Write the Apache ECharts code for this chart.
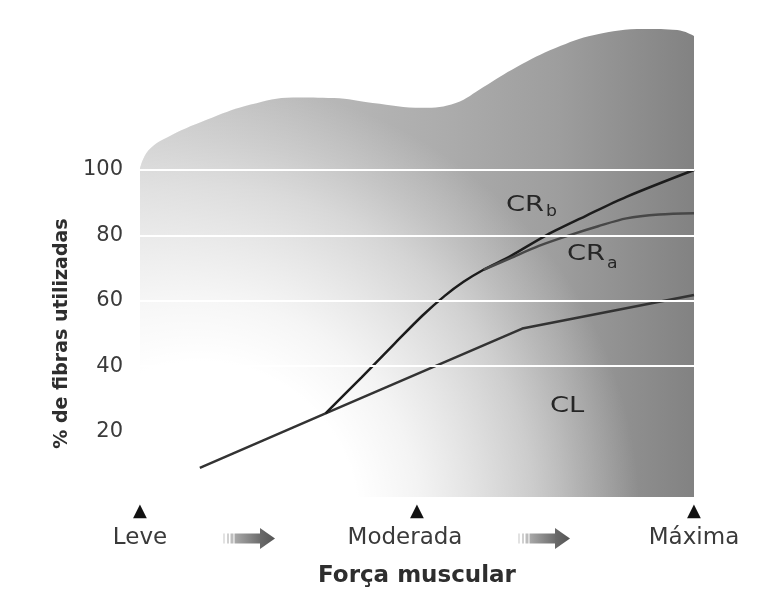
<!DOCTYPE html>
<html>
<head>
<meta charset="utf-8">
<script src="https://cdn.jsdelivr.net/npm/echarts@6/dist/echarts.min.js"></script>
<style>
html,body{margin:0;padding:0;background:#fff;}
#chart{width:766px;height:597px;}
</style>
</head>
<body>
<div id="chart"></div>
<script>
// ---- data ----
const xTickValues = [0, 50, 100];
const xTickLabels = ['Leve', 'Moderada', 'Máxima'];
const yTicks = [20, 40, 60, 80, 100];
const gridLineValues = [40, 60, 80, 100];

// background shape (top edge), x: force 0-100, y: % scale
const blobX = [0, 1.5, 5.5, 13, 20, 27.6, 35, 42, 51, 57, 62, 68, 75, 82, 91, 97, 100];
const blobY = [100.5, 106, 110.5, 116, 120, 122.2, 122, 120.5, 119, 120.5, 125.4, 131.5, 137.3, 141.3, 143.1, 142.8, 141];

const clX = [10.8, 33.5, 69, 100];
const clY = [8.9, 25.6, 51.5, 61.8];

const crbX = [33.5, 40, 46, 51, 55, 58.4, 62, 66.8, 73.4, 80.5, 87.8, 100];
const crbY = [25.6, 36.6, 47, 55.5, 61.5, 65.8, 69.5, 73.6, 80.1, 86, 91.8, 100];

const craX = [62, 66.8, 72, 77.6, 82.7, 87.8, 93.7, 100];
const craY = [69.5, 73, 76.8, 80.1, 82.8, 85.2, 86.4, 86.8];

const zip = (xs, ys) => xs.map((x, i) => [x, ys[i]]);

const FONT = 'DejaVu Sans';
const chart = echarts.init(document.getElementById('chart'), null, {renderer: 'canvas'});

function arrow(x0) {
  const cy = 538.5;
  return {
    type: 'group',
    x: x0, y: cy,
    silent: true,
    children: [
      {type: 'rect', shape: {x: 0, y: -5, width: 2, height: 10}, style: {fill: '#e2e2e2'}},
      {type: 'rect', shape: {x: 4, y: -5, width: 2, height: 10}, style: {fill: '#d0d0d0'}},
      {type: 'rect', shape: {x: 7.5, y: -5, width: 3, height: 10}, style: {fill: '#bdbdbd'}},
      {type: 'rect', shape: {x: 11.5, y: -5, width: 26, height: 10},
        style: {fill: new echarts.graphic.LinearGradient(0, 0, 1, 0, [
          {offset: 0, color: '#a9a9a9'}, {offset: 1, color: '#6c6c6c'}])}},
      {type: 'polygon', shape: {points: [[37, -10.5], [52, 0], [37, 10.5]]},
        style: {fill: new echarts.graphic.LinearGradient(0, 0, 1, 0, [
          {offset: 0, color: '#6a6a6a'}, {offset: 1, color: '#555'}])}}
    ]
  };
}

function label(text, x, y, size, sx) {
  return {type: 'text', x: x, y: y, scaleX: sx, silent: true, z: 10,
    style: {text: text, font: size + 'px "DejaVu Sans"', fill: '#262626', align: 'left', verticalAlign: 'middle'}};
}

const option = {
  animation: false,
  backgroundColor: '#fff',
  grid: {left: 140, right: 72, top: 170, bottom: 100, containLabel: false},
  xAxis: {
    type: 'value', min: 0, max: 100, interval: 50,
    axisLine: {show: false}, axisTick: {show: false}, splitLine: {show: false},
    name: 'Força muscular', nameLocation: 'middle', nameGap: 68,
    nameTextStyle: {fontFamily: FONT, fontWeight: 'bold', fontSize: 23, color: '#2e2e2e'},
    axisLabel: {
      show: true, showMinLabel: true, showMaxLabel: true, margin: 6,
      formatter: function (v) {
        const i = xTickValues.indexOf(v);
        if (i < 0) return '';
        const key = i === 1 ? 'm' : 'l';
        return '{t|▲}\n{' + key + '|' + xTickLabels[i] + '}';
      },
      rich: {
        t: {fontFamily: FONT, fontSize: 18, lineHeight: 16, color: '#111'},
        l: {fontFamily: FONT, fontSize: 23, lineHeight: 38, color: '#3a3a3a'},
        m: {fontFamily: FONT, fontSize: 23, lineHeight: 38, color: '#3a3a3a', padding: [0, 24, 0, 0]}
      }
    }
  },
  yAxis: {
    type: 'value', min: 0, max: 100, interval: 20,
    axisLine: {show: false}, axisTick: {show: false}, splitLine: {show: false},
    name: '% de fibras utilizadas', nameLocation: 'middle', nameGap: 68,
    nameTextStyle: {fontFamily: FONT, fontWeight: 'bold', fontSize: 19, color: '#2e2e2e'},
    axisLabel: {
      margin: 17, fontFamily: FONT, fontSize: 21, color: '#3a3a3a',
      formatter: v => (yTicks.indexOf(v) >= 0 ? String(v) : '')
    }
  },
  series: [
    {
      name: 'fundo', type: 'line', data: zip(blobX, blobY), smooth: 0.4,
      clip: false, showSymbol: false, silent: true, z: 1,
      lineStyle: {width: 0},
      areaStyle: {
        opacity: 1,
        color: {type: 'linear', x: 140, y: 0, x2: 694, y2: 0, global: true,
          colorStops: [
            {offset: 0, color: '#c8c8c8'}, {offset: 0.3, color: '#b9b9b9'},
            {offset: 0.55, color: '#acacac'}, {offset: 0.75, color: '#9e9e9e'},
            {offset: 1, color: '#828282'}]}
      }
    },
    {
      name: 'luz', type: 'line', data: zip(blobX, blobY), smooth: 0.4,
      clip: false, showSymbol: false, silent: true, z: 1,
      lineStyle: {width: 0},
      areaStyle: {
        opacity: 1,
        color: {type: 'radial', x: 200, y: 520, r: 440, global: true,
          colorStops: [
            {offset: 0, color: 'rgba(255,255,255,1)'}, {offset: 0.36, color: 'rgba(255,255,255,1)'},
            {offset: 0.5, color: 'rgba(255,255,255,0.86)'}, {offset: 0.62, color: 'rgba(255,255,255,0.68)'},
            {offset: 0.76, color: 'rgba(255,255,255,0.46)'}, {offset: 0.86, color: 'rgba(255,255,255,0.25)'},
            {offset: 1, color: 'rgba(255,255,255,0)'}]}
      }
    },
    {
      name: 'grade', type: 'line', data: [], z: 2, silent: true,
      markLine: {
        silent: true, symbol: ['none', 'none'], label: {show: false},
        lineStyle: {color: '#ffffff', width: 2, type: 'solid'},
        data: gridLineValues.map(v => ({yAxis: v}))
      }
    },
    {
      name: 'CL', type: 'line', data: zip(clX, clY), smooth: false, showSymbol: false, z: 3,
      lineStyle: {color: '#333', width: 2.5}
    },
    {
      name: 'CRb', type: 'line', data: zip(crbX, crbY), smooth: 0.3, showSymbol: false, z: 3,
      lineStyle: {color: '#1c1c1c', width: 2.5}
    },
    {
      name: 'CRa', type: 'line', data: zip(craX, craY), smooth: 0.3, showSymbol: false, z: 3,
      lineStyle: {color: '#474747', width: 2.5}
    }
  ],
  graphic: [
    label('CR', 506, 206, 21, 1.3),
    label('b', 546, 212, 15, 1.15),
    label('CR', 567, 255, 21, 1.3),
    label('a', 607, 264, 15, 1.15),
    label('CL', 550, 407, 21, 1.3),
    arrow(223),
    arrow(518)
  ]
};
chart.setOption(option);
</script>
</body>
</html>
